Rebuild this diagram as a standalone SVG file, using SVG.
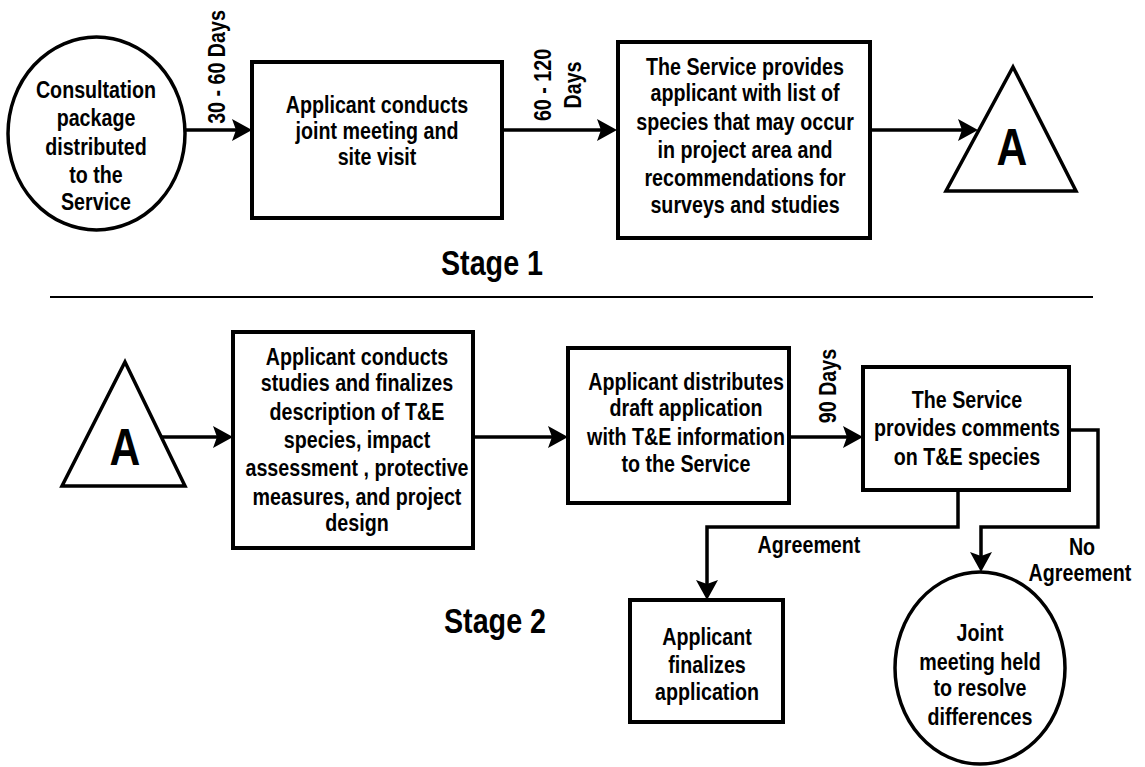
<svg xmlns="http://www.w3.org/2000/svg" width="1145" height="767" viewBox="0 0 1145 767">
<style>
.t{font-family:"Liberation Sans",Arial,sans-serif;font-weight:bold;font-size:24px;fill:#000;text-anchor:middle}
.stage{font-size:35px}
.big{font-size:52px}
.box{fill:#fff;stroke:#000;stroke-width:4}
.shape{fill:#fff;stroke:#000;stroke-width:3.5}
.con{fill:none;stroke:#000;stroke-width:3.5;marker-end:url(#arr)}
</style>
<defs>
<marker id="arr" viewBox="0 0 20 24" refX="14" refY="12" markerWidth="20" markerHeight="24" markerUnits="userSpaceOnUse" orient="auto">
<path d="M0,1 L20,12 L0,23 L4,12 z" fill="#000"/>
</marker>
</defs>
<rect width="1145" height="767" fill="#fff"/>
<g id="connectors">
<line class="con" x1="185" y1="130" x2="246" y2="130"/>
<line class="con" x1="502" y1="130" x2="611" y2="130"/>
<line class="con" x1="870" y1="130" x2="972" y2="130"/>
<line class="con" x1="161" y1="437" x2="227" y2="437"/>
<line class="con" x1="473" y1="437" x2="562" y2="437"/>
<line class="con" x1="789" y1="437" x2="857" y2="437"/>
<polyline class="con" points="958,490 958,527 707,527 707,594"/>
<polyline class="con" points="1069,430 1098,430 1098,527 981,527 981,566"/>
<text class="t" transform="translate(217,67) rotate(-90) scale(0.82,1)" dominant-baseline="central">30 - 60 Days</text>
<text class="t" transform="translate(543,85) rotate(-90) scale(0.82,1)" dominant-baseline="central">60 - 120</text>
<text class="t" transform="translate(573,85) rotate(-90) scale(0.82,1)" dominant-baseline="central">Days</text>
<text class="t" transform="translate(828,386) rotate(-90) scale(0.82,1)" dominant-baseline="central">90 Days</text>
<text class="t" transform="translate(809,0) scale(0.82,1)" x="0" y="553">Agreement</text>
<text class="t" transform="translate(1082,0) scale(0.82,1)" x="0" y="555">No</text>
<text class="t" transform="translate(1080,0) scale(0.82,1)" x="0" y="581">Agreement</text>
</g>
<g id="n-consultation">
<ellipse class="shape" cx="96.5" cy="133.5" rx="88.5" ry="96.5"/>
<g transform="translate(96,0) scale(0.82,1)">
<text class="t" x="0" y="98">Consultation</text>
<text class="t" x="0" y="126">package</text>
<text class="t" x="0" y="155">distributed</text>
<text class="t" x="0" y="183">to the</text>
<text class="t" x="0" y="210">Service</text>
</g>
</g>
<g id="n-joint-meeting">
<rect class="box" x="252" y="62" width="250" height="156"/>
<g transform="translate(377,0) scale(0.82,1)">
<text class="t" x="0" y="113">Applicant conducts</text>
<text class="t" x="0" y="139">joint meeting and</text>
<text class="t" x="0" y="165">site visit</text>
</g>
</g>
<g id="n-species-list">
<rect class="box" x="618" y="42" width="252" height="196"/>
<g transform="translate(745,0) scale(0.82,1)">
<text class="t" x="0" y="75">The Service provides</text>
<text class="t" x="0" y="101">applicant with list of</text>
<text class="t" x="0" y="130">species that may occur</text>
<text class="t" x="0" y="158">in project area and</text>
<text class="t" x="0" y="186">recommendations for</text>
<text class="t" x="0" y="213">surveys and studies</text>
</g>
</g>
<g id="n-A1">
<polygon class="shape" points="1013,67 1076,191 946,191"/>
<text class="t big" transform="translate(1012,0) scale(0.82,1)" x="0" y="165">A</text>
</g>
<g id="stage1">
<text class="t stage" transform="translate(492,0) scale(0.82,1)" x="0" y="275">Stage 1</text>
<line x1="50" y1="297" x2="1093" y2="297" stroke="#000" stroke-width="2"/>
</g>
<g id="n-A2">
<polygon class="shape" points="125,362 185,486 62,486"/>
<text class="t big" transform="translate(125,0) scale(0.82,1)" x="0" y="465">A</text>
</g>
<g id="n-studies">
<rect class="box" x="233" y="332" width="240" height="216"/>
<g transform="translate(357,0) scale(0.82,1)">
<text class="t" x="0" y="365">Applicant conducts</text>
<text class="t" x="0" y="391">studies and finalizes</text>
<text class="t" x="0" y="420">description of T&amp;E</text>
<text class="t" x="0" y="448">species, impact</text>
<text class="t" x="0" y="476">assessment , protective</text>
<text class="t" x="0" y="505">measures, and project</text>
<text class="t" x="0" y="531">design</text>
</g>
</g>
<g id="n-draft">
<rect class="box" x="568" y="348" width="221" height="155"/>
<g transform="translate(686,0) scale(0.82,1)">
<text class="t" x="0" y="390">Applicant distributes</text>
<text class="t" x="0" y="416">draft application</text>
<text class="t" x="0" y="445">with T&amp;E information</text>
<text class="t" x="0" y="472">to the Service</text>
</g>
</g>
<g id="n-comments">
<rect class="box" x="863" y="367" width="206" height="123"/>
<g transform="translate(967,0) scale(0.82,1)">
<text class="t" x="0" y="408">The Service</text>
<text class="t" x="0" y="436">provides comments</text>
<text class="t" x="0" y="465">on T&amp;E species</text>
</g>
</g>
<g id="n-finalize">
<rect class="box" x="630" y="600" width="153" height="122"/>
<g transform="translate(707,0) scale(0.82,1)">
<text class="t" x="0" y="645">Applicant</text>
<text class="t" x="0" y="673">finalizes</text>
<text class="t" x="0" y="700">application</text>
</g>
</g>
<g id="n-resolve">
<ellipse class="shape" cx="980" cy="668" rx="85" ry="96"/>
<g transform="translate(980,0) scale(0.82,1)">
<text class="t" x="0" y="641">Joint</text>
<text class="t" x="0" y="670">meeting held</text>
<text class="t" x="0" y="696">to resolve</text>
<text class="t" x="0" y="725">differences</text>
</g>
</g>
<g id="stage2">
<text class="t stage" transform="translate(495,0) scale(0.82,1)" x="0" y="633">Stage 2</text>
</g>
</svg>
